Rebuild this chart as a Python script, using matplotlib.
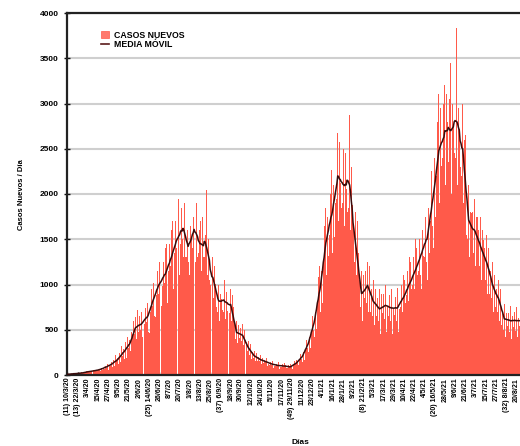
import datetime as dt
import numpy as np
import pandas as pd
import matplotlib
matplotlib.use("Agg")
import matplotlib.pyplot as plt
from matplotlib.patches import Patch
from matplotlib.lines import Line2D

# ---------------- data ----------------
start_date = dt.date(2020, 3, 10)

# daily new cases, one row per week
weekly_rows = [
    [3, 8, 12, 6, 15, 10, 14],
    [12, 18, 10, 20, 14, 16, 15],
    [20, 25, 18, 30, 22, 19, 24],
    [28, 40, 32, 45, 30, 38, 35],
    [40, 52, 38, 55, 42, 48, 40],
    [50, 72, 55, 68, 48, 75, 52],
    [70, 110, 65, 95, 80, 120, 60],
    [95, 150, 100, 140, 90, 170, 95],
    [130, 220, 150, 190, 120, 240, 140],
    [200, 320, 210, 290, 180, 360, 190],
    [280, 420, 300, 390, 260, 480, 250],
    [430, 600, 450, 640, 400, 720, 400],
    [480, 650, 500, 700, 420, 760, 430],
    [560, 740, 590, 800, 480, 850, 460],
    [700, 950, 760, 1020, 650, 1100, 640],
    [880, 1150, 900, 1250, 780, 1300, 760],
    [980, 1250, 1020, 1400, 880, 1450, 800],
    [1150, 1450, 1200, 1600, 1000, 1700, 950],
    [1350, 1700, 1400, 1800, 1200, 1950, 1100],
    [1450, 1850, 1500, 2040, 1300, 1900, 1300],
    [1300, 1600, 1250, 1750, 1100, 1650, 1500],
    [1400, 1750, 1450, 2010, 1250, 1900, 1300],
    [1350, 1600, 1300, 1700, 1150, 1750, 1300],
    [1300, 1550, 1250, 2040, 1100, 1500, 1050],
    [1000, 1250, 950, 1300, 850, 1200, 1010],
    [750, 950, 700, 1000, 600, 900, 840],
    [720, 950, 700, 1050, 620, 920, 710],
    [700, 900, 680, 950, 600, 880, 750],
    [420, 560, 400, 600, 350, 550, 410],
    [400, 520, 380, 560, 330, 500, 390],
    [270, 360, 260, 380, 220, 340, 270],
    [180, 250, 190, 270, 150, 240, 190],
    [150, 200, 160, 220, 120, 190, 150],
    [130, 170, 140, 190, 100, 160, 125],
    [110, 140, 115, 160, 80, 135, 100],
    [95, 125, 100, 140, 70, 120, 85],
    [90, 120, 95, 135, 65, 115, 80],
    [80, 110, 85, 125, 60, 100, 70],
    [110, 150, 120, 170, 90, 160, 110],
    [170, 230, 180, 260, 140, 250, 170],
    [290, 390, 300, 430, 250, 420, 300],
    [480, 650, 500, 730, 420, 700, 510],
    [800, 1080, 850, 1200, 700, 1150, 800],
    [1250, 1650, 1300, 1850, 1100, 1750, 1320],
    [1550, 2000, 1600, 2270, 1350, 2100, 1520],
    [1900, 2480, 1950, 2670, 1700, 2580, 2120],
    [1850, 2300, 1900, 2500, 1650, 2450, 2050],
    [1800, 2400, 1850, 2870, 1600, 2300, 1880],
    [1300, 1650, 1250, 1800, 1100, 1700, 1350],
    [800, 1050, 750, 1150, 600, 1100, 850],
    [850, 1150, 800, 1250, 700, 1200, 980],
    [700, 950, 650, 1050, 550, 950, 820],
    [650, 850, 600, 950, 450, 900, 710],
    [680, 900, 620, 1000, 480, 950, 760],
    [650, 880, 600, 950, 450, 920, 730],
    [660, 860, 600, 960, 470, 900, 730],
    [750, 1000, 700, 1100, 550, 1050, 800],
    [880, 1150, 820, 1300, 650, 1250, 950],
    [1000, 1300, 950, 1500, 800, 1400, 1100],
    [1150, 1500, 1100, 1700, 950, 1600, 1310],
    [1300, 1750, 1250, 1950, 1050, 1850, 1350],
    [1700, 2250, 1650, 2500, 1400, 2400, 1750],
    [2200, 2800, 2100, 3100, 1900, 2950, 2310],
    [2400, 3000, 2300, 3200, 2100, 3100, 2800],
    [2350, 3050, 2300, 3450, 2000, 3000, 2750],
    [2450, 3150, 2400, 3830, 2100, 2950, 2720],
    [2300, 2850, 2200, 3000, 1900, 2600, 2650],
    [1550, 1950, 1500, 2100, 1300, 1800, 1790],
    [1400, 1800, 1350, 1950, 1200, 1750, 1750],
    [1250, 1600, 1200, 1750, 1050, 1600, 1490],
    [1100, 1400, 1050, 1550, 900, 1400, 1350],
    [900, 1150, 850, 1250, 700, 1100, 1050],
    [750, 950, 700, 1050, 600, 950, 950],
    [550, 700, 500, 780, 420, 700, 690],
    [540, 680, 480, 760, 400, 690, 650],
    [530, 700, 490, 750, 420, 680, 630],
    [540, 690, 500, 740, 410, 700, 620],
]

tick_step_days = 12
week_notes = {0: "(11)", 1: "(13)", 8: "(25)", 15: "(37)", 22: "(49)",
              29: "(8)", 36: "(20)", 43: "(32)"}

legend_labels = ["CASOS NUEVOS", "MEDIA MÓVIL"]
y_label = "Casos Nuevos / Día"
x_label = "Días"

# ---------------- build ----------------
daily = [v for row in weekly_rows for v in row]
n = len(daily)
days = np.arange(n)
moving = pd.Series(daily, dtype=float).rolling(7, center=True, min_periods=1).mean()

tick_idx = list(range(0, n, tick_step_days))
tick_labels = []
for k, d in enumerate(tick_idx):
    date = start_date + dt.timedelta(days=int(d))
    s = f"{date.day}/{date.month}/{date.year % 100}"
    if k in week_notes:
        s = f"{week_notes[k]} {s}"
    tick_labels.append(s)

plt.rcParams['font.family'] = ['Liberation Sans', 'DejaVu Sans']
plt.rcParams['font.weight'] = 'bold'

fig = plt.figure(figsize=(5.2, 4.46), dpi=100)
W, H = 520, 446
px_per_day = 0.85
xmin, xmax = -0.5, 560
ax = fig.add_axes([67 / W, (H - 375) / H, (xmax - xmin) * px_per_day / W, 362 / H])

bar_color = "#FF5A4A"
ax.bar(days, daily, width=1.0, color=bar_color, edgecolor="none", linewidth=0, zorder=2)
ax.plot(days, moving, color="#3B0C0C", lw=1.1, zorder=3)

ax.set_xlim(xmin, xmax)
ax.set_ylim(0, 4000)
ax.set_yticks(np.arange(0, 4001, 500))
ax.set_yticklabels([str(v) for v in range(0, 4001, 500)], fontsize=6, fontweight='bold')
ax.yaxis.grid(True, color="#CFCFCF", lw=1.5, zorder=0)
ax.set_axisbelow(True)

ax.set_xticks(tick_idx)
ax.set_xticklabels(tick_labels, rotation=90, fontsize=5, fontweight='bold',
                   va='top', ha='center')
ax.tick_params(axis='x', direction='in', length=2, width=1, pad=2, color="#111111")
ax.tick_params(axis='y', direction='inout', length=4, width=1, pad=4, color="#111111")

for side in ["left", "top", "bottom"]:
    ax.spines[side].set_color("#222222")
    ax.spines[side].set_linewidth(1.6)
ax.spines["right"].set_visible(False)

handles = [Patch(facecolor="#FF7A6E", edgecolor="#FF5A4A", lw=0.5),
           Line2D([0], [0], color="#5A1A1A", lw=1.2)]
leg = ax.legend(handles, legend_labels, loc="upper left",
                frameon=False, fontsize=6.3, handlelength=1.0, handleheight=1.0,
                handletextpad=0.6, labelspacing=0.1, borderaxespad=0)
leg.set_bbox_to_anchor((97 / W, 1 - 27 / H), transform=fig.transFigure)
for t in leg.get_texts():
    t.set_fontweight('bold')

fig.text(22 / W, 1 - 195 / H, y_label, rotation=90, ha='center', va='center',
         fontsize=5.5, fontweight='bold')
fig.text(300 / W, 1 - 439 / H, x_label, ha='center', va='top',
         fontsize=6, fontweight='bold')

fig.savefig("out.png", dpi=100)
